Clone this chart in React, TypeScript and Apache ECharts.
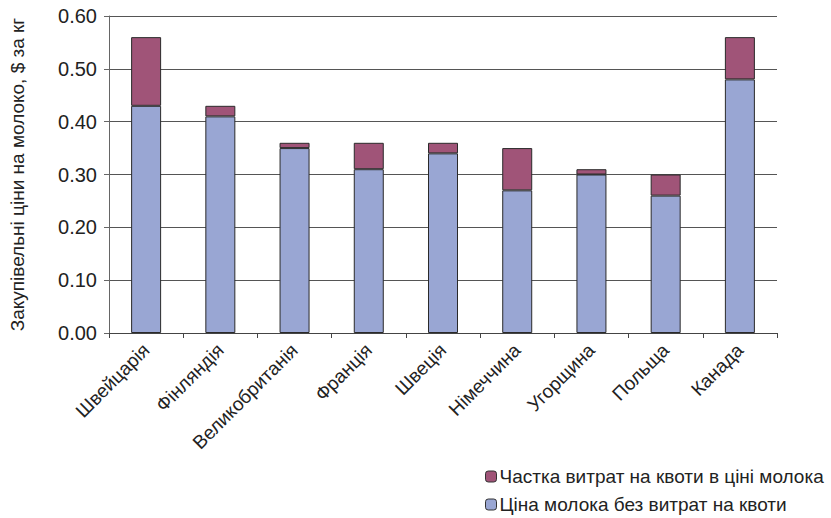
import React, { useEffect, useRef } from "react";
import * as echarts from "echarts";

const categories = ["Швейцарія", "Фінляндія", "Великобританія", "Франція", "Швеція", "Німеччина", "Угорщина", "Польща", "Канада"];
const basePrice = [0.43, 0.41, 0.35, 0.31, 0.34, 0.27, 0.30, 0.26, 0.48];
const quotaShare = [0.13, 0.02, 0.01, 0.05, 0.02, 0.08, 0.01, 0.04, 0.08];
const seriesNames = ["Частка витрат на квоти в ціні молока", "Ціна молока без витрат на квоти"];
const yAxisName = "Закупівельні ціни на молоко, $ за кг";

export default function App() {
  const ref = useRef<HTMLDivElement>(null);
  useEffect(() => {
    if (!ref.current) return;
    const chart = echarts.init(ref.current, null, { renderer: "svg" });
    const font = "'Liberation Sans', Arial, sans-serif";
    chart.setOption({
      animation: false,
      backgroundColor: "#ffffff",
      textStyle: { fontFamily: font },
      grid: { left: 103, right: 54, top: 16, bottom: 185, containLabel: false },
      legend: {
        orient: "vertical",
        left: 485,
        top: 467,
        padding: 0,
        itemWidth: 11,
        itemHeight: 11,
        itemGap: 9,
        data: [
          { name: seriesNames[0], itemStyle: { borderColor: "#333", borderWidth: 1 } },
          { name: seriesNames[1], itemStyle: { borderColor: "#333", borderWidth: 1 } },
        ],
        textStyle: { fontSize: 19, color: "#222", fontFamily: font, padding: [0, 0, 0, -2] },
      },
      xAxis: {
        type: "category",
        data: categories,
        axisLine: { show: true, lineStyle: { color: "#444", width: 1 } },
        axisTick: { show: true, alignWithLabel: false, length: 5, lineStyle: { color: "#444" } },
        axisLabel: { rotate: 45, fontSize: 19, color: "#222", margin: 14, fontFamily: font, interval: 0 },
      },
      yAxis: {
        type: "value",
        min: 0,
        max: 0.6,
        interval: 0.1,
        name: yAxisName,
        nameLocation: "middle",
        nameGap: 82,
        nameTextStyle: { fontSize: 19, color: "#222", fontFamily: font },
        axisLine: { show: true, lineStyle: { color: "#666", width: 1 } },
        axisTick: { show: true, length: 5, lineStyle: { color: "#666" } },
        axisLabel: {
          fontSize: 20,
          color: "#222",
          margin: 12,
          fontFamily: font,
          formatter: (v: number) => v.toFixed(2),
        },
        splitLine: { show: true, lineStyle: { color: "#555", width: 1 } },
      },
      series: [
        {
          name: seriesNames[1],
          type: "bar",
          stack: "total",
          data: basePrice,
          barWidth: 30,
          itemStyle: { color: "#99A6D3", borderColor: "#2a2a2a", borderWidth: 1 },
        },
        {
          name: seriesNames[0],
          type: "bar",
          stack: "total",
          data: quotaShare,
          barWidth: 30,
          itemStyle: { color: "#A05478", borderColor: "#2a2a2a", borderWidth: 1 },
        },
      ],
    });
    return () => chart.dispose();
  }, []);
  return <div ref={ref} style={{ position: "fixed", left: 0, top: 0, width: 831, height: 518 }} />;
}
